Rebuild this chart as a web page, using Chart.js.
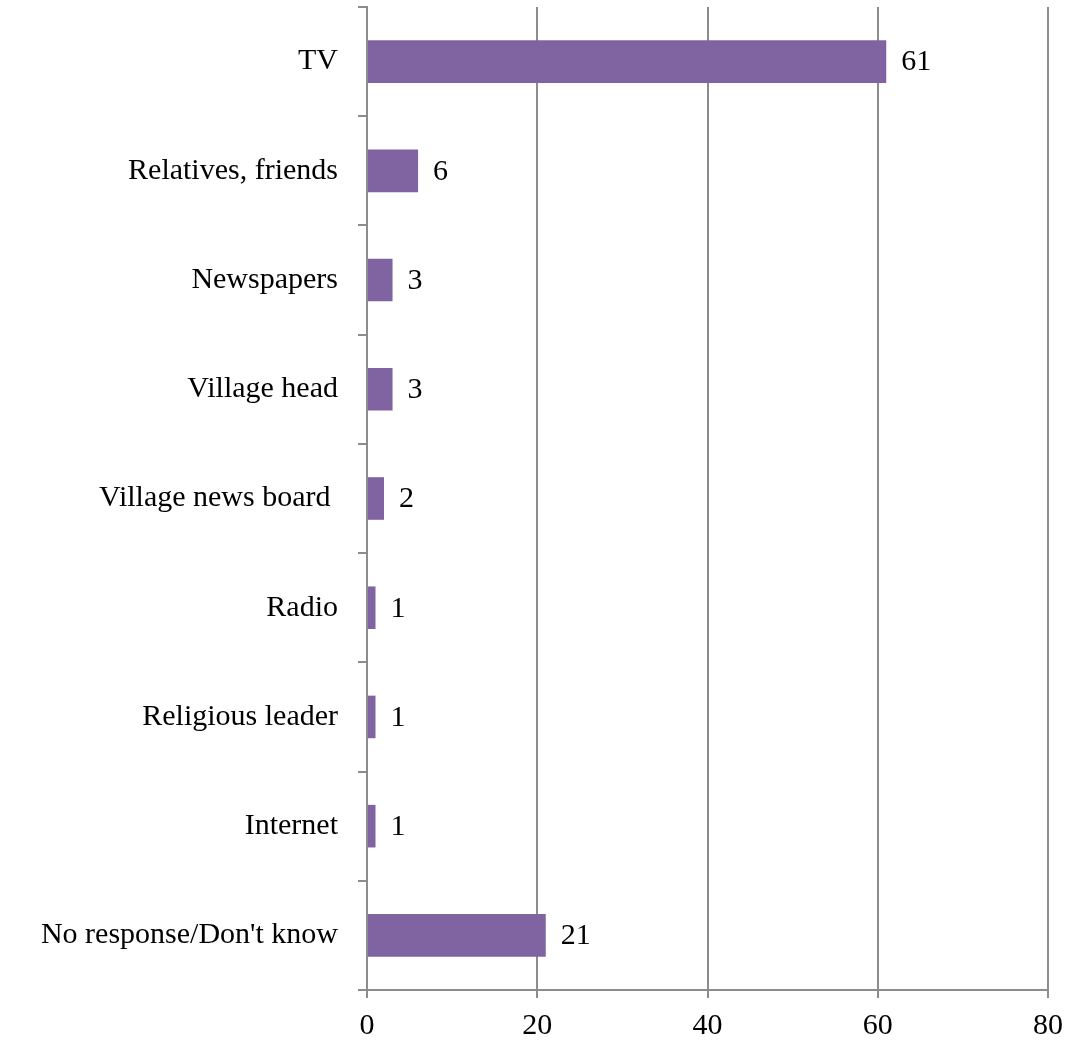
<!DOCTYPE html>
<html>
<head>
<meta charset="utf-8">
<script src="https://cdn.jsdelivr.net/npm/chart.js@4.4.1/dist/chart.umd.min.js"></script>
<style>
  html, body { margin: 0; padding: 0; background: #fff; }
  #wrap { width: 1068px; height: 1041px; }
</style>
</head>
<body>
<div id="wrap"><canvas id="chart" width="1068" height="1041"></canvas></div>
<script>
// データ
const categories = ['TV', 'Relatives, friends', 'Newspapers', 'Village head', 'Village news board ',
  'Radio', 'Religious leader', 'Internet', "No response/Don't know"];
const values = [61, 6, 3, 3, 2, 1, 1, 1, 21];
const xTicks = [0, 20, 40, 60, 80];

const FONT = "'Liberation Serif', 'DejaVu Serif', serif";
const GRID = '#8c8c8c';

// バー右側に数値ラベル
const valueLabels = {
  id: 'valueLabels',
  afterDatasetsDraw(chart) {
    const ctx = chart.ctx;
    const meta = chart.getDatasetMeta(0);
    ctx.save();
    ctx.font = `30px ${FONT}`;
    ctx.fillStyle = '#000';
    ctx.textAlign = 'left';
    ctx.textBaseline = 'middle';
    meta.data.forEach((bar, i) => {
      ctx.fillText(String(values[i]), bar.x + 15, bar.y + 1);
    });
    ctx.restore();
  }
};

new Chart(document.getElementById('chart'), {
  type: 'bar',
  data: {
    labels: categories,
    datasets: [{
      data: values,
      backgroundColor: '#8064a2',
      borderWidth: 0,
      categoryPercentage: 1,
      barPercentage: 0.39,
    }]
  },
  options: {
    indexAxis: 'y',
    responsive: false,
    animation: false,
    layout: { padding: { top: 7, right: 20, left: 0, bottom: 0 } },
    plugins: { legend: { display: false }, tooltip: { enabled: false } },
    scales: {
      x: {
        min: 0, max: 80,
        afterBuildTicks: s => { s.ticks = xTicks.map(v => ({ value: v })); },
        afterFit: s => { s.height = 51; s.paddingLeft = 0; s.paddingRight = 0; },
        ticks: { color: '#000', font: { family: FONT, size: 30 }, padding: 10, maxRotation: 0 },
        grid: { color: GRID, lineWidth: 2, tickLength: 8 },
        border: { color: GRID, width: 2 },
      },
      y: {
        afterFit: s => { s.width = 367; s.paddingTop = 0; s.paddingBottom = 0; },
        ticks: { color: '#000', font: { family: FONT, size: 30 }, padding: 20 },
        grid: { display: true, drawOnChartArea: false, color: GRID, lineWidth: 2, tickLength: 9, offset: true },
        border: { color: GRID, width: 2 },
      }
    }
  },
  plugins: [valueLabels]
});
</script>
</body>
</html>
